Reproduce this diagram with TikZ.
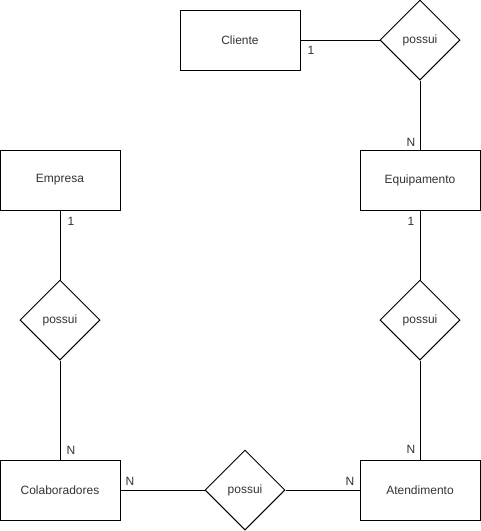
\documentclass[tikz,border=0pt]{standalone}
\usepackage{fontspec}
\setmainfont{Liberation Sans}
\usetikzlibrary{shapes.geometric}
\begin{document}
\begin{tikzpicture}[x=1pt,y=-1pt,
  line width=1pt,
  every node/.style={font=\fontsize{12}{14}\selectfont, text=black!80},
  entity/.style={draw=black, rectangle, minimum width=120pt, minimum height=60pt, inner sep=0pt},
  relation/.style={draw=black, diamond, minimum width=80pt, minimum height=80pt, inner sep=0pt},
  card/.style={inner sep=0pt, font=\fontsize{12}{14}\selectfont}]
  \useasboundingbox (0,0) rectangle (481,531);

  % entities
  \node[entity] (cliente) at (240,40) {Cliente};
  \node[entity] (equip) at (420,180) {Equipamento};
  \node[entity] (empresa) at (60,180) {Empresa};
  \node[entity] (colab) at (60,490) {Colaboradores};
  \node[entity] (atend) at (420,490) {Atendimento};

  % relationships
  \node[relation] (rcli) at (420,40) {possui};
  \node[relation] (remp) at (60,320) {possui};
  \node[relation] (reqp) at (420,320) {possui};
  \node[relation] (rcol) at (245,490) {possui};

  % connectors
  \draw (cliente.east) -- (rcli.west);
  \draw (rcli.south) -- (equip.north);
  \draw (equip.south) -- (reqp.north);
  \draw (reqp.south) -- (atend.north);
  \draw (empresa.south) -- (remp.north);
  \draw (remp.south) -- (colab.north);
  \draw (colab.east) -- (rcol.west);
  \draw (rcol.east) -- (atend.west);

  % cardinalities
  \node[card] (c1) at (311,50) {1};
  \node[card] (c2) at (411,142) {N};
  \node[card] (c3) at (411,221) {1};
  \node[card] (c4) at (411,449) {N};
  \node[card] (c5) at (71,221) {1};
  \node[card] (c6) at (71,450) {N};
  \node[card] (c7) at (130,481) {N};
  \node[card] (c8) at (350,481) {N};
\end{tikzpicture}
\end{document}
